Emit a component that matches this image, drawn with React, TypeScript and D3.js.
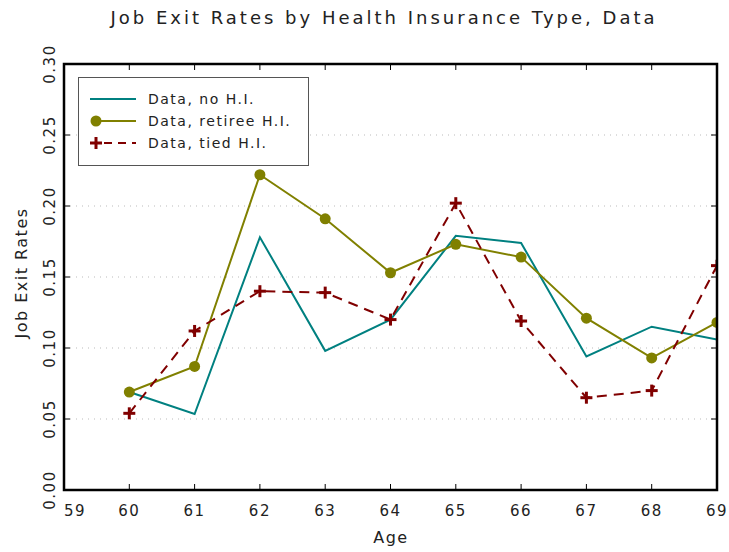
import React from "react";
import * as d3 from "d3";

const ages = [60, 61, 62, 63, 64, 65, 66, 67, 68, 69];
const noHI = [0.069, 0.0535, 0.178, 0.098, 0.12, 0.179, 0.174, 0.094, 0.115, 0.106];
const retireeHI = [0.069, 0.087, 0.222, 0.191, 0.153, 0.173, 0.164, 0.121, 0.093, 0.118];
const tiedHI = [0.054, 0.112, 0.14, 0.139, 0.12, 0.202, 0.119, 0.065, 0.07, 0.158];
const xTicks = [59, 60, 61, 62, 63, 64, 65, 66, 67, 68, 69];
const yTicks = [0, 0.05, 0.1, 0.15, 0.2, 0.25, 0.3];
const legendLabels = ["Data, no H.I.", "Data, retiree H.I.", "Data, tied H.I."];

const W = 729, H = 552;
const L = 64, R = 717, T = 64, B = 490;
const FONT = "'DejaVu Sans', sans-serif";

export default function App() {
  const x = d3.scaleLinear().domain([59, 69]).range([L, R]);
  const y = d3.scaleLinear().domain([0, 0.3]).range([B, T]);
  const line = (vals: number[]) =>
    d3.line<number>().x((_, i) => x(ages[i])).y((v) => y(v))(vals) || "";
  const teal = "#008080", olive = "#808000", maroon = "#800000";
  const plus = (cx: number, cy: number, k: string) => (
    <g key={k} stroke={maroon} strokeWidth={3}>
      <line x1={cx - 6} x2={cx + 6} y1={cy} y2={cy} />
      <line x1={cx} x2={cx} y1={cy - 6} y2={cy + 6} />
    </g>
  );
  return (
    <svg width={W} height={H} style={{ position: "absolute", left: 0, top: 0, background: "#fff" }} fontFamily={FONT}>
      <rect width={W} height={H} fill="#fff" />
      <defs>
        <clipPath id="c"><rect x={L} y={T} width={R - L} height={B - T} /></clipPath>
      </defs>
      {yTicks.slice(1, -1).map((t) => (
        <line key={t} x1={L} x2={R} y1={y(t)} y2={y(t)} stroke="#bbb" strokeWidth={1} strokeDasharray="1,5" />
      ))}
      {xTicks.slice(1, -1).map((t) => (
        <g key={t} stroke="#000" strokeWidth={1}>
          <line x1={x(t)} x2={x(t)} y1={B} y2={B - 6} />
          <line x1={x(t)} x2={x(t)} y1={T} y2={T + 6} />
        </g>
      ))}
      {yTicks.slice(1, -1).map((t) => (
        <g key={t} stroke="#000" strokeWidth={1}>
          <line x1={L} x2={L + 6} y1={y(t)} y2={y(t)} />
          <line x1={R} x2={R - 6} y1={y(t)} y2={y(t)} />
        </g>
      ))}
      <g clipPath="url(#c)">
        <path d={line(noHI)} fill="none" stroke={teal} strokeWidth={2} />
        <path d={line(retireeHI)} fill="none" stroke={olive} strokeWidth={2} />
        <path d={line(tiedHI)} fill="none" stroke={maroon} strokeWidth={2} strokeDasharray="10,7" />
        {retireeHI.map((v, i) => (
          <circle key={i} cx={x(ages[i])} cy={y(v)} r={5.5} fill={olive} />
        ))}
        {tiedHI.map((v, i) => plus(x(ages[i]), y(v), "p" + i))}
      </g>
      <rect x={L} y={T} width={R - L} height={B - T} fill="none" stroke="#000" strokeWidth={2.5} />
      {xTicks.map((t) => (
        <text key={t} x={x(t) + (t === 59 ? 11 : 0)} y={516} textAnchor="middle" fontSize={15} letterSpacing={1.5} fill="#222">
          {t}
        </text>
      ))}
      {yTicks.map((t) => (
        <text key={t} transform={`translate(55,${y(t)}) rotate(-90)`} textAnchor="middle" fontSize={15} letterSpacing={1.5} fill="#222">
          {t.toFixed(2)}
        </text>
      ))}
      <text x={384} y={24} textAnchor="middle" fontSize={18} letterSpacing={3} fill="#222">
        Job Exit Rates by Health Insurance Type, Data
      </text>
      <text x={391} y={543} textAnchor="middle" fontSize={16} letterSpacing={1.5} fill="#222">Age</text>
      <text transform={`translate(27,273) rotate(-90)`} textAnchor="middle" fontSize={16} letterSpacing={1.5} fill="#222">
        Job Exit Rates
      </text>
      <rect x={78.5} y={77.5} width={230} height={88} fill="#fff" stroke="#555" strokeWidth={1} />
      {legendLabels.map((lab, i) => {
        const ly = 99 + i * 22;
        return (
          <g key={lab}>
            {i === 0 && <line x1={90} x2={136} y1={ly} y2={ly} stroke={teal} strokeWidth={2} />}
            {i === 1 && (
              <g>
                <line x1={95} x2={136} y1={ly} y2={ly} stroke={olive} strokeWidth={2} />
                <circle cx={96} cy={ly} r={5.5} fill={olive} />
              </g>
            )}
            {i === 2 && (
              <g>
                <line x1={96} x2={136} y1={ly} y2={ly} stroke={maroon} strokeWidth={2} strokeDasharray="8,6" strokeDashoffset={-8} />
                {plus(96, ly, "lp")}
              </g>
            )}
            <text x={148} y={ly + 5} fontSize={14} letterSpacing={1.5} fill="#222">{lab}</text>
          </g>
        );
      })}
    </svg>
  );
}
